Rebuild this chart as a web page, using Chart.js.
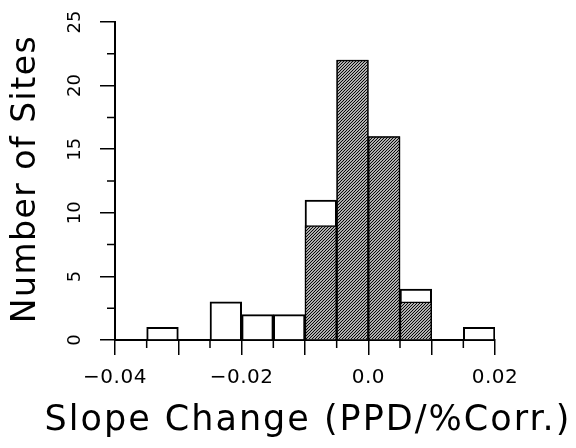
<!DOCTYPE html>
<html>
<head>
<meta charset="utf-8">
<script src="https://cdn.jsdelivr.net/npm/chart.js@4.4.1/dist/chart.umd.min.js"></script>
<style>
  html, body { margin: 0; padding: 0; background: #fff; }
  #wrap { width: 576px; height: 448px; }
</style>
</head>
<body>
<div id="wrap"><canvas id="c" width="576" height="448"></canvas></div>
<script>
// ---- data ----
const binStarts = [-0.04, -0.035, -0.03, -0.025, -0.02, -0.015, -0.01, -0.005, 0.0, 0.005, 0.01, 0.015];
const binWidth = 0.005;
const totalCounts  = [0, 1, 0, 3, 2, 2, 11, 22, 16, 4, 0, 1];
const shadedCounts = [0, 0, 0, 0, 0, 0,  9, 22, 16, 3, 0, 0];
const xLabelValues = [-0.04, -0.02, 0.0, 0.02];
const xLabelTexts  = ['\u22120.04', '\u22120.02', '0.0', '0.02'];
const yLabelValues = [0, 5, 10, 15, 20, 25];
const yLabelTexts  = ['0', '5', '10', '15', '20', '25'];
const xTitle = 'Slope Change (PPD/%Corr.)';
const yTitle = 'Number of Sites';

const FONT = '"DejaVu Sans", sans-serif';
const canvas = document.getElementById('c');
const ctx = canvas.getContext('2d');

function makeHatch() {
  const s = 3;
  const c = document.createElement('canvas');
  c.width = s; c.height = s;
  const g = c.getContext('2d');
  g.fillStyle = '#fff'; g.fillRect(0, 0, s, s);
  g.strokeStyle = '#000'; g.lineWidth = 1.2;
  g.beginPath();
  g.moveTo(0, s); g.lineTo(s, 0);
  g.moveTo(-1, 1); g.lineTo(1, -1);
  g.moveTo(s - 1, s + 1); g.lineTo(s + 1, s - 1);
  g.stroke();
  return ctx.createPattern(c, 'repeat');
}

const toPoints = arr => binStarts.map((b, i) => ({ x: b + binWidth / 2, y: arr[i] }));
const near = (a, b) => Math.abs(a - b) < 1e-9;
const isMultiple = (v, m) => near(Math.round(v / m) * m, v);

const spacingPlugin = {
  id: 'spacing',
  beforeDraw(chart) { chart.ctx.letterSpacing = '0.5px'; }
};

const extrasPlugin = {
  id: 'extras',
  afterDraw(chart) {
    const c = chart.ctx;
    const xs = chart.scales.x, ys = chart.scales.y;
    c.save();
    c.strokeStyle = '#000';
    c.lineWidth = 1.5;
    // minor ticks
    c.beginPath();
    xs.ticks.forEach(t => {
      if (!isMultiple(t.value, 0.01)) {
        const px = xs.getPixelForValue(t.value);
        c.moveTo(px, xs.top); c.lineTo(px, xs.top + 8);
      }
    });
    ys.ticks.forEach(t => {
      if (!isMultiple(t.value, 5)) {
        const py = ys.getPixelForValue(t.value);
        c.moveTo(ys.right - 8, py); c.lineTo(ys.right, py);
      }
    });
    c.stroke();
    // rotated y tick labels
    c.fillStyle = '#000';
    c.font = '18px ' + FONT;
    c.letterSpacing = '0px';
    c.textAlign = 'center';
    c.textBaseline = 'middle';
    yLabelValues.forEach((v, i) => {
      const py = ys.getPixelForValue(v);
      c.save();
      c.translate(75, py);
      c.rotate(-Math.PI / 2);
      c.fillText(yLabelTexts[i], 0, 0);
      c.restore();
    });
    // y axis title
    c.font = '33px ' + FONT;
    c.letterSpacing = '1.5px';
    c.save();
    c.translate(26, (ys.top + ys.bottom) / 2 - 2);
    c.rotate(-Math.PI / 2);
    c.fillText(yTitle, 0, 0);
    c.restore();
    // x axis title
    c.font = '35px ' + FONT;
    c.letterSpacing = '2px';
    c.fillText(xTitle, (xs.left + xs.right) / 2 + 3, 421);
    c.restore();
  }
};

new Chart(ctx, {
  type: 'bar',
  data: {
    datasets: [
      {
        label: 'shaded',
        data: toPoints(shadedCounts),
        backgroundColor: makeHatch(),
        borderColor: '#000',
        borderWidth: 1.5,
        order: 0
      },
      {
        label: 'total',
        data: toPoints(totalCounts),
        backgroundColor: '#fff',
        borderColor: '#000',
        borderWidth: 2,
        order: 1
      }
    ]
  },
  options: {
    responsive: false,
    animation: false,
    devicePixelRatio: 1,
    layout: { padding: { top: 22, right: 81, left: 0, bottom: 0 } },
    datasets: { bar: { grouped: false, categoryPercentage: 1, barPercentage: 1 } },
    plugins: { legend: { display: false }, tooltip: { enabled: false } },
    scales: {
      x: {
        type: 'linear',
        min: -0.04, max: 0.02,
        offset: false,
        grid: {
          offset: false,
          drawOnChartArea: false,
          drawTicks: true,
          tickLength: 15,
          lineWidth: 1.5,
          tickColor: c => (c.tick && isMultiple(c.tick.value, 0.01)) ? '#000' : 'rgba(0,0,0,0)'
        },
        border: { display: true, color: '#000', width: 2 },
        ticks: {
          stepSize: 0.005,
          autoSkip: false,
          maxRotation: 0, minRotation: 0,
          color: '#000',
          padding: 11,
          font: { family: FONT, size: 20 },
          callback: v => {
            const i = xLabelValues.findIndex(a => near(a, v));
            return i >= 0 ? xLabelTexts[i] : '';
          }
        },
        title: { display: false },
        afterFit: s => { s.height = 108; }
      },
      y: {
        min: 0, max: 25,
        grid: {
          drawOnChartArea: false,
          drawTicks: true,
          tickLength: 15,
          lineWidth: 1.5,
          tickColor: c => (c.tick && isMultiple(c.tick.value, 5)) ? '#000' : 'rgba(0,0,0,0)'
        },
        border: { display: true, color: '#000', width: 2 },
        ticks: { stepSize: 2.5, display: false },
        title: { display: false },
        afterFit: s => { s.width = 115; }
      }
    }
  },
  plugins: [spacingPlugin, extrasPlugin]
});
</script>
</body>
</html>
